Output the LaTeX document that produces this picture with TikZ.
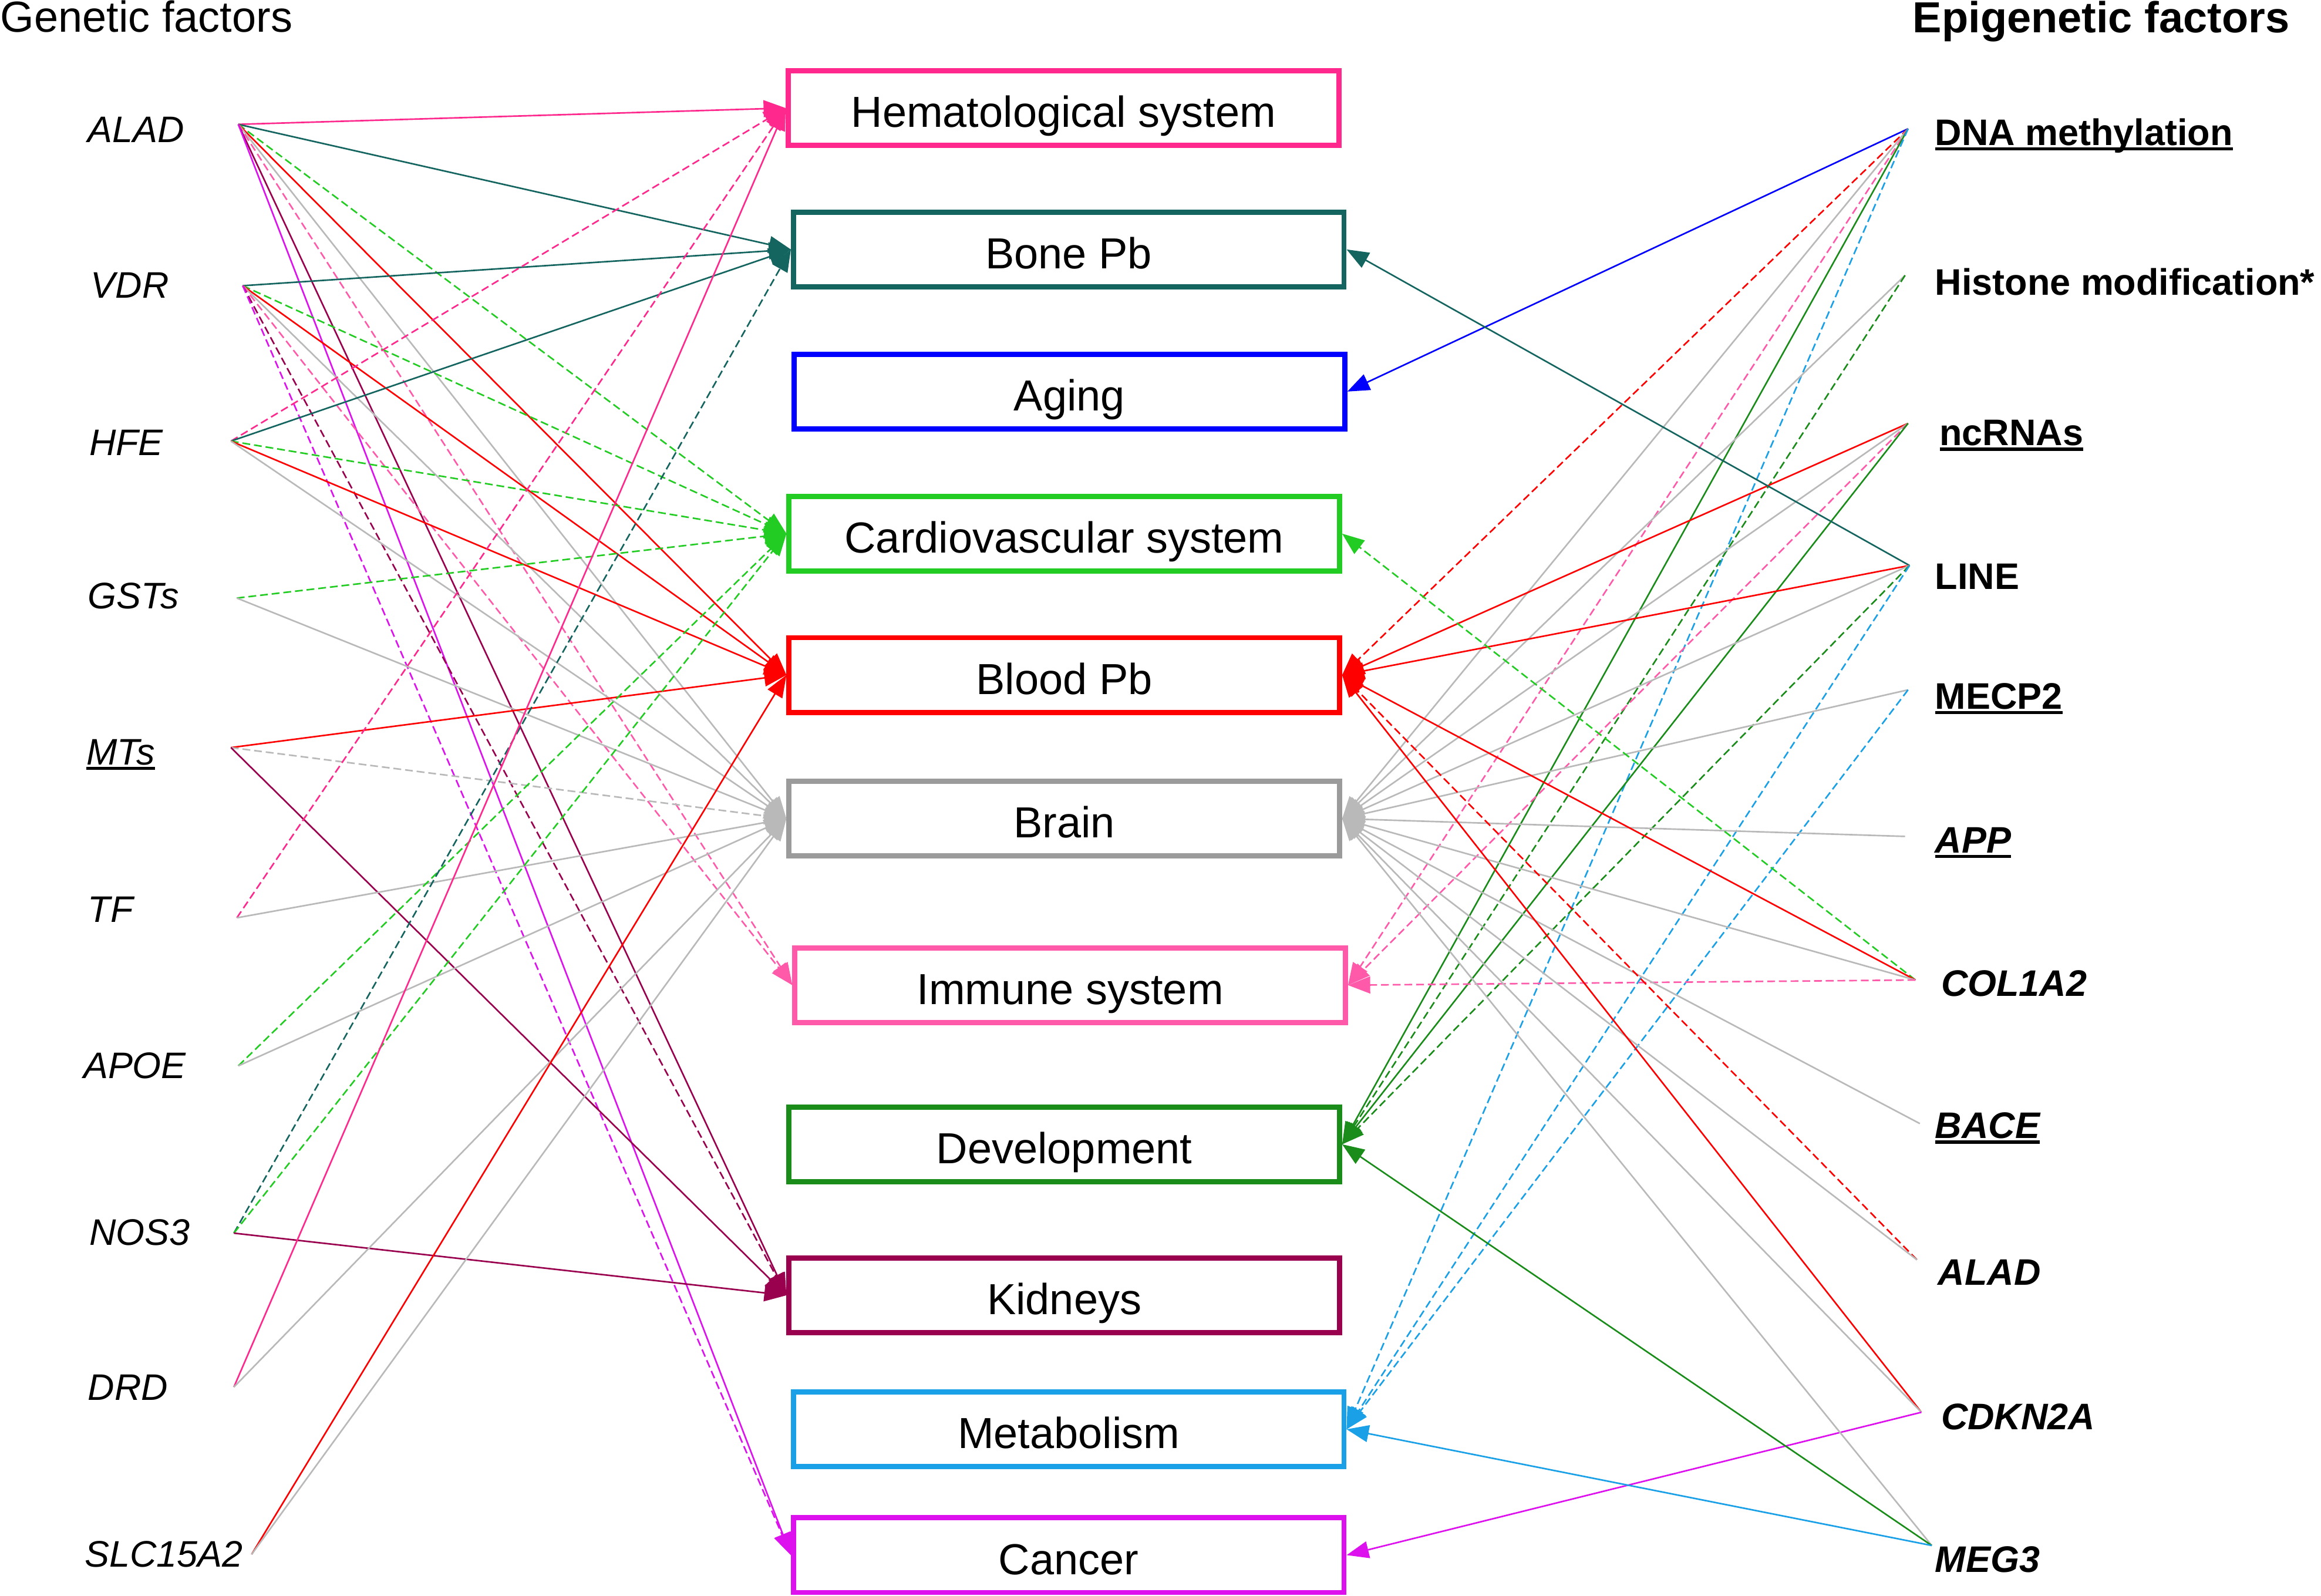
\documentclass[tikz,border=0pt]{standalone}
\usepackage{fontspec}
\setmainfont{Liberation Sans}
\usetikzlibrary{arrows.meta}

\definecolor{hemat}{RGB}{255,40,140}
\definecolor{bone}{RGB}{20,100,95}
\definecolor{aging}{RGB}{0,0,255}
\definecolor{cardio}{RGB}{34,204,34}
\definecolor{blood}{RGB}{255,0,0}
\definecolor{brainbox}{RGB}{155,155,155}
\definecolor{brain}{RGB}{185,185,185}
\definecolor{immune}{RGB}{255,90,170}
\definecolor{devel}{RGB}{26,140,26}
\definecolor{kidney}{RGB}{153,0,77}
\definecolor{metab}{RGB}{26,160,230}
\definecolor{cancer}{RGB}{221,17,238}

\newcommand{\ulin}[1]{\setbox0=\hbox{#1}\rlap{\vrule height -0.8pt depth 2pt width \wd0}\box0}

\tikzset{
  head/.style={inner sep=0pt, font=\fontsize{16.7}{20}\selectfont},
  outcome/.style={draw, line width=2pt, minimum width=7.44cm, minimum height=1.01cm,
    inner sep=0pt, text height=14.8pt, text depth=0pt, font=\fontsize{16.7}{20}\selectfont},
  gene/.style={anchor=base west, inner sep=0pt, font=\fontsize{14.2}{17}\selectfont\itshape},
  epi/.style={anchor=base west, inner sep=0pt, font=\fontsize{14.2}{17}\selectfont\bfseries},
  link/.style={line width=0.6pt, -{Triangle[length=8.5pt,width=6.5pt]}},
  dsh/.style={dash pattern=on 3pt off 1.5pt},
}

\begin{document}
\begin{tikzpicture}[x=0.02cm, y=-0.02cm]
  \useasboundingbox (0,0) rectangle (1568,1078);

  % column titles
  \node[head, anchor=base west] (gentitle) at (0,21.5) {Genetic factors};
  \node[head, anchor=base east, font=\fontsize{16.7}{20}\selectfont\bfseries] (epititle) at (1547,22) {Epigenetic factors};

  % outcome boxes
  \node[outcome, draw=hemat] (hemat) at (718.5,73) {Hematological system};
  \node[outcome, draw=bone] (bone) at (722,168.5) {Bone Pb};
  \node[outcome, draw=aging] (aging) at (722.5,264.5) {Aging};
  \node[outcome, draw=cardio] (cardio) at (719,360.5) {Cardiovascular system};
  \node[outcome, draw=blood] (blood) at (719,456) {Blood Pb};
  \node[outcome, draw=brainbox] (brain) at (719,553) {Brain};
  \node[outcome, draw=immune] (immune) at (723,665.5) {Immune system};
  \node[outcome, draw=devel] (devel) at (719,773) {Development};
  \node[outcome, draw=kidney] (kidney) at (719,875) {Kidneys};
  \node[outcome, draw=metab] (metab) at (722,965.5) {Metabolism};
  \node[outcome, draw=cancer] (cancer) at (722,1050.5) {Cancer};

  % genetic factors
  \node[gene] (gALAD) at (59,96) {ALAD};
  \node[gene] (gVDR) at (61,201.5) {VDR};
  \node[gene] (gHFE) at (60,307.5) {HFE};
  \node[gene] (gGST) at (59,411) {GSTs};
  \node[gene] (gMT) at (58,516.5) {\ulin{MTs}};
  \node[gene] (gTF) at (59,623) {TF};
  \node[gene] (gAPOE) at (56,728.5) {APOE};
  \node[gene] (gNOS) at (60,841) {NOS3};
  \node[gene] (gDRD) at (59,946) {DRD};
  \node[gene] (gSLC) at (57,1058.5) {SLC15A2};

  \coordinate (pALAD) at (161,84);
  \coordinate (pVDR) at (164,193);
  \coordinate (pHFE) at (156,298);
  \coordinate (pGST) at (160,404);
  \coordinate (pMT) at (156,505);
  \coordinate (pTF) at (160,620);
  \coordinate (pAPOE) at (161,720);
  \coordinate (pNOS) at (158,833);
  \coordinate (pDRD) at (158,937);
  \coordinate (pSLC) at (170,1050);

  % epigenetic factors
  \node[epi] (eDNA) at (1307,98) {\ulin{DNA methylation}};
  \node[epi] (eHIS) at (1307,199.5) {Histone modification*};
  \node[epi] (eNC) at (1310,301) {\ulin{ncRNAs}};
  \node[epi] (eLINE) at (1307,398) {LINE};
  \node[epi] (eMECP) at (1307,479) {\ulin{MECP2}};
  \node[epi] (eAPP) at (1307,576) {\ulin{\itshape APP}};
  \node[epi] (eCOL) at (1311,673) {\itshape COL1A2};
  \node[epi] (eBACE) at (1307,769) {\ulin{\itshape BACE}};
  \node[epi] (eALAD) at (1309,868) {\itshape ALAD};
  \node[epi] (eCDK) at (1311,965.5) {\itshape CDKN2A};
  \node[epi] (eMEG) at (1307,1062) {\itshape MEG3};

  \coordinate (qDNA) at (1289,87);
  \coordinate (qHIS) at (1287,186);
  \coordinate (qNC) at (1289,286);
  \coordinate (qLINE) at (1290,382);
  \coordinate (qMECP) at (1289,466);
  \coordinate (qAPP) at (1287,565);
  \coordinate (qCOL) at (1294,662);
  \coordinate (qBACE) at (1297,759);
  \coordinate (qALAD) at (1295,851);
  \coordinate (qCDK) at (1298,954);
  \coordinate (qMEG) at (1305,1044);

  % genetic factors -> outcomes
  \draw[link, hemat] (pALAD) -- (hemat.west);
  \draw[link, bone] (pALAD) -- (bone.west);
  \draw[link, dsh, cardio] (pALAD) -- (cardio.west);
  \draw[link, blood] (pALAD) -- (blood.west);
  \draw[link, brain] (pALAD) -- (brain.west);
  \draw[link, dsh, immune] (pALAD) -- (immune.west);
  \draw[link, kidney] (pALAD) -- (kidney.west);
  \draw[link, cancer] (pALAD) -- (cancer.west);

  \draw[link, bone] (pVDR) -- (bone.west);
  \draw[link, dsh, cardio] (pVDR) -- (cardio.west);
  \draw[link, blood] (pVDR) -- (blood.west);
  \draw[link, brain] (pVDR) -- (brain.west);
  \draw[link, dsh, immune] (pVDR) -- (immune.west);
  \draw[link, dsh, kidney] (pVDR) -- (kidney.west);
  \draw[link, dsh, cancer] (pVDR) -- (cancer.west);

  \draw[link, dsh, hemat] (pHFE) -- (hemat.west);
  \draw[link, bone] (pHFE) -- (bone.west);
  \draw[link, dsh, cardio] (pHFE) -- (cardio.west);
  \draw[link, blood] (pHFE) -- (blood.west);
  \draw[link, brain] (pHFE) -- (brain.west);

  \draw[link, dsh, cardio] (pGST) -- (cardio.west);
  \draw[link, brain] (pGST) -- (brain.west);

  \draw[link, blood] (pMT) -- (blood.west);
  \draw[link, dsh, brain] (pMT) -- (brain.west);
  \draw[link, kidney] (pMT) -- (kidney.west);

  \draw[link, dsh, hemat] (pTF) -- (hemat.west);
  \draw[link, brain] (pTF) -- (brain.west);

  \draw[link, dsh, cardio] (pAPOE) -- (cardio.west);
  \draw[link, brain] (pAPOE) -- (brain.west);

  \draw[link, dsh, bone] (pNOS) -- (bone.west);
  \draw[link, dsh, cardio] (pNOS) -- (cardio.west);
  \draw[link, kidney] (pNOS) -- (kidney.west);

  \draw[link, hemat] (pDRD) -- (hemat.west);
  \draw[link, brain] (pDRD) -- (brain.west);

  \draw[link, blood] (pSLC) -- (blood.west);
  \draw[link, brain] (pSLC) -- (brain.west);

  % epigenetic factors -> outcomes
  \draw[link, aging] (qDNA) -- (aging.east);
  \draw[link, dsh, blood] (qDNA) -- (blood.east);
  \draw[link, brain] (qDNA) -- (brain.east);
  \draw[link, dsh, immune] (qDNA) -- (immune.east);
  \draw[link, devel] (qDNA) -- (devel.east);
  \draw[link, dsh, metab] (qDNA) -- (metab.east);

  \draw[link, brain] (qHIS) -- (brain.east);
  \draw[link, dsh, devel] (qHIS) -- (devel.east);

  \draw[link, blood] (qNC) -- (blood.east);
  \draw[link, brain] (qNC) -- (brain.east);
  \draw[link, dsh, immune] (qNC) -- (immune.east);
  \draw[link, devel] (qNC) -- (devel.east);

  \draw[link, bone] (qLINE) -- (bone.east);
  \draw[link, blood] (qLINE) -- (blood.east);
  \draw[link, brain] (qLINE) -- (brain.east);
  \draw[link, dsh, devel] (qLINE) -- (devel.east);
  \draw[link, dsh, metab] (qLINE) -- (metab.east);

  \draw[link, brain] (qMECP) -- (brain.east);
  \draw[link, dsh, metab] (qMECP) -- (metab.east);

  \draw[link, brain] (qAPP) -- (brain.east);

  \draw[link, dsh, cardio] (qCOL) -- (cardio.east);
  \draw[link, blood] (qCOL) -- (blood.east);
  \draw[link, brain] (qCOL) -- (brain.east);
  \draw[link, dsh, immune] (qCOL) -- (immune.east);

  \draw[link, brain] (qBACE) -- (brain.east);

  \draw[link, dsh, blood] (qALAD) -- (blood.east);
  \draw[link, brain] (qALAD) -- (brain.east);

  \draw[link, blood] (qCDK) -- (blood.east);
  \draw[link, brain] (qCDK) -- (brain.east);
  \draw[link, cancer] (qCDK) -- (cancer.east);

  \draw[link, brain] (qMEG) -- (brain.east);
  \draw[link, devel] (qMEG) -- (devel.east);
  \draw[link, metab] (qMEG) -- (metab.east);
\end{tikzpicture}
\end{document}
